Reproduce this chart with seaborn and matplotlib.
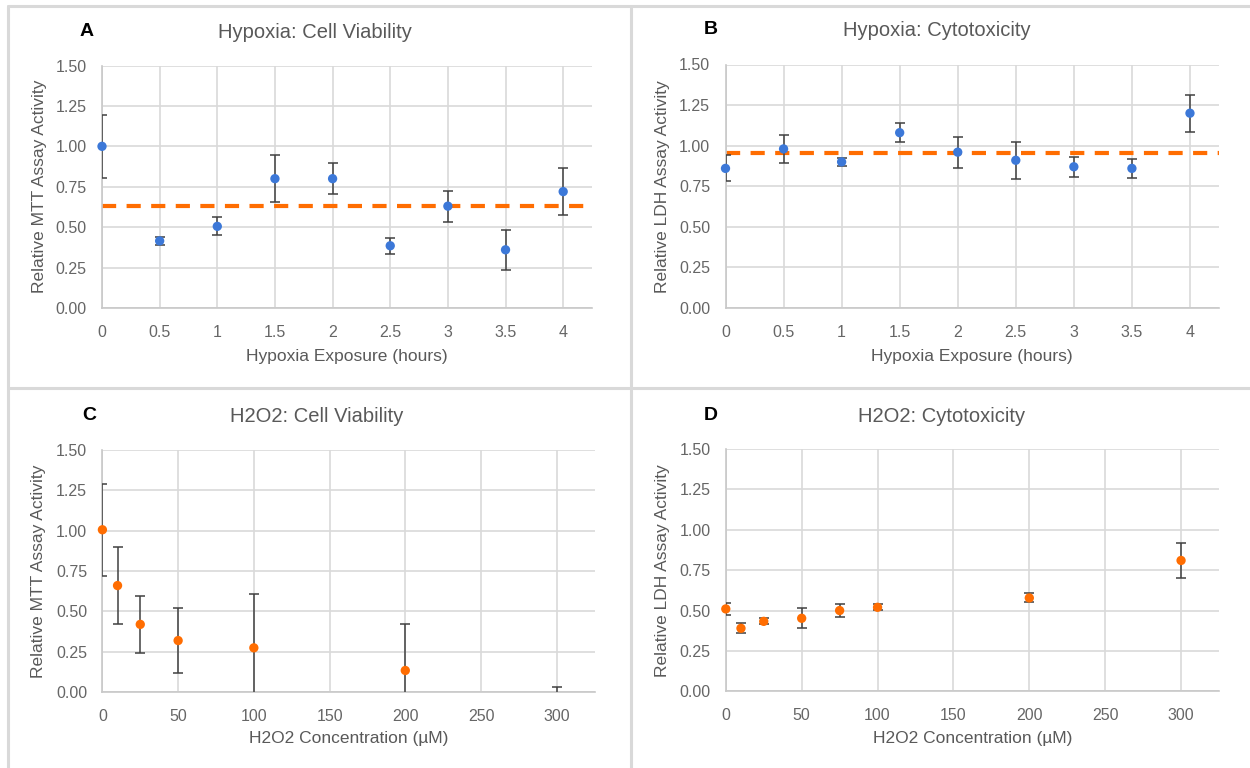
import numpy as np
import pandas as pd
import matplotlib
matplotlib.use("Agg")
import matplotlib.pyplot as plt
from matplotlib.lines import Line2D
import seaborn as sns

# ---------------- data ----------------
hyp_hours = [0, 0.5, 1, 1.5, 2, 2.5, 3, 3.5, 4]
mtt_hyp = [1.00, 0.415, 0.505, 0.80, 0.80, 0.385, 0.63, 0.36, 0.72]
mtt_hyp_err = [0.195, 0.025, 0.055, 0.145, 0.095, 0.05, 0.095, 0.125, 0.145]
mtt_hyp_mean = 0.63

ldh_hyp = [0.86, 0.98, 0.90, 1.08, 0.96, 0.91, 0.87, 0.86, 1.20]
ldh_hyp_err = [0.08, 0.085, 0.025, 0.06, 0.095, 0.115, 0.06, 0.06, 0.115]
ldh_hyp_mean = 0.955

h2o2_conc_mtt = [0, 10, 25, 50, 100, 200, 300]
mtt_h2o2 = [1.005, 0.66, 0.42, 0.32, 0.275, 0.135, -0.04]
mtt_h2o2_err = [0.285, 0.24, 0.175, 0.20, 0.335, 0.29, 0.07]

h2o2_conc_ldh = [0, 10, 25, 50, 75, 100, 200, 300]
ldh_h2o2 = [0.51, 0.39, 0.433, 0.452, 0.50, 0.52, 0.578, 0.81]
ldh_h2o2_err = [0.038, 0.032, 0.018, 0.062, 0.04, 0.018, 0.028, 0.11]

yticks = [0.0, 0.25, 0.5, 0.75, 1.0, 1.25, 1.5]
hyp_xticks = [0, 0.5, 1, 1.5, 2, 2.5, 3, 3.5, 4]
h2o2_xticks = [0, 50, 100, 150, 200, 250, 300]

BLUE = "#3c78d8"
ORANGE = "#ff6d01"
GRID = "#d9d9d9"
ERR = "#404040"
TXT = "#595959"

sns.set_theme(style="white")
plt.rcParams["font.family"] = ["Liberation Sans", "DejaVu Sans"]

W, H = 1250, 768
fig = plt.figure(figsize=(W / 100, H / 100), dpi=100)


def px_axes(l, t, r, b):
    return fig.add_axes([l / W, 1 - b / H, (r - l) / W, (b - t) / H])


def draw_panel(ax, x, y, err, color, xticks, xmax, ylabel, xlabel, mean=None):
    df = pd.DataFrame({"x": x, "y": y, "err": err})
    ax.set_xlim(0, xmax)
    ax.set_ylim(0, 1.5)
    ax.set_xticks(xticks)
    ax.set_xticklabels([f"{t:g}" for t in xticks])
    ax.set_yticks(yticks)
    ax.set_yticklabels([f"{t:.2f}" for t in yticks])
    ax.grid(True, color=GRID, lw=1.2)
    ax.set_axisbelow(True)
    for s in ["top", "right"]:
        ax.spines[s].set_visible(False)
    for s in ["left", "bottom"]:
        ax.spines[s].set_color("#c8c8c8")
        ax.spines[s].set_linewidth(1.2)
    ax.tick_params(axis="both", length=0, labelsize=11.5, labelcolor="#666666")
    ax.tick_params(axis="y", pad=11)
    ax.tick_params(axis="x", pad=12)
    if mean is not None:
        ax.axhline(mean, color=ORANGE, lw=3, dashes=(3.4, 2.5), zorder=2)
    ax.errorbar(df["x"], df["y"], yerr=df["err"], fmt="none", ecolor=ERR,
                elinewidth=1.1, capsize=3.6, capthick=1.1, zorder=3)
    vis = df[df["y"] >= 0]
    sns.scatterplot(data=vis, x="x", y="y", ax=ax, color=color, s=45,
                    edgecolor="none", zorder=4, clip_on=False)
    hid = df[df["y"] < 0]
    if len(hid):
        sns.scatterplot(data=hid, x="x", y="y", ax=ax, color=color, s=45,
                        edgecolor="none", zorder=4)
    ax.set_xlabel(xlabel, fontsize=12.5, color=TXT)
    ax.set_ylabel(ylabel, fontsize=12.5, color=TXT)
    ax.xaxis.label.set_va("center")
    ax.yaxis.label.set_va("center")


axA = px_axes(102, 65.5, 592, 308)
draw_panel(axA, hyp_hours, mtt_hyp, mtt_hyp_err, BLUE, hyp_xticks, 4.25,
           "Relative MTT Assay Activity", "Hypoxia Exposure (hours)", mtt_hyp_mean)
axA.xaxis.set_label_coords(0.5, (308 - 356) / 242.5)
axA.yaxis.set_label_coords((39 - 102) / 490, 0.5)

axB = px_axes(725.5, 64.5, 1219, 308)
draw_panel(axB, hyp_hours, ldh_hyp, ldh_hyp_err, BLUE, hyp_xticks, 4.25,
           "Relative LDH Assay Activity", "Hypoxia Exposure (hours)", ldh_hyp_mean)
axB.xaxis.set_label_coords(0.5, (308 - 356) / 243.5)
axB.yaxis.set_label_coords((663 - 725.5) / 493.5, 0.5)

axC = px_axes(102.4, 449.7, 594.6, 692.3)
draw_panel(axC, h2o2_conc_mtt, mtt_h2o2, mtt_h2o2_err, ORANGE, h2o2_xticks, 325,
           "Relative MTT Assay Activity", "H2O2 Concentration (\u00b5M)")
axC.xaxis.set_label_coords(0.5, (692.3 - 739) / 242.6)
axC.yaxis.set_label_coords((39 - 102.4) / 492.2, 0.5)

axD = px_axes(725.8, 449, 1219, 691.3)
draw_panel(axD, h2o2_conc_ldh, ldh_h2o2, ldh_h2o2_err, ORANGE, h2o2_xticks, 325,
           "Relative LDH Assay Activity", "H2O2 Concentration (\u00b5M)")
axD.xaxis.set_label_coords(0.5, (691.3 - 738) / 242.3)
axD.yaxis.set_label_coords((663 - 725.8) / 493.2, 0.5)

# titles and panel letters
titles = [("Hypoxia: Cell Viability", 315, 32), ("Hypoxia: Cytotoxicity", 937, 30),
          ("H2O2: Cell Viability", 317, 416), ("H2O2: Cytotoxicity", 942, 416)]
for t, x, y in titles:
    fig.text(x / W, 1 - y / H, t, ha="center", va="center", fontsize=14.5, color=TXT)
letters = [("A", 86.5, 31), ("B", 710.5, 30), ("C", 89, 416), ("D", 711, 416)]
for t, x, y in letters:
    fig.text(x / W, 1 - y / H, t, ha="center", va="center", fontsize=14,
             fontweight="bold", color="black")

# panel border lines
bc, blw = "#d9d9d9", 2.2
fig.add_artist(Line2D([8 / W, 1], [1 - 6 / H, 1 - 6 / H], color=bc, lw=blw))
fig.add_artist(Line2D([8 / W, 8 / W], [0, 1 - 6 / H], color=bc, lw=blw))
fig.add_artist(Line2D([631 / W, 631 / W], [0, 1 - 6 / H], color=bc, lw=blw))
fig.add_artist(Line2D([8 / W, 1], [1 - 388 / H, 1 - 388 / H], color=bc, lw=blw))

fig.savefig("out.png", dpi=100, facecolor="white")
